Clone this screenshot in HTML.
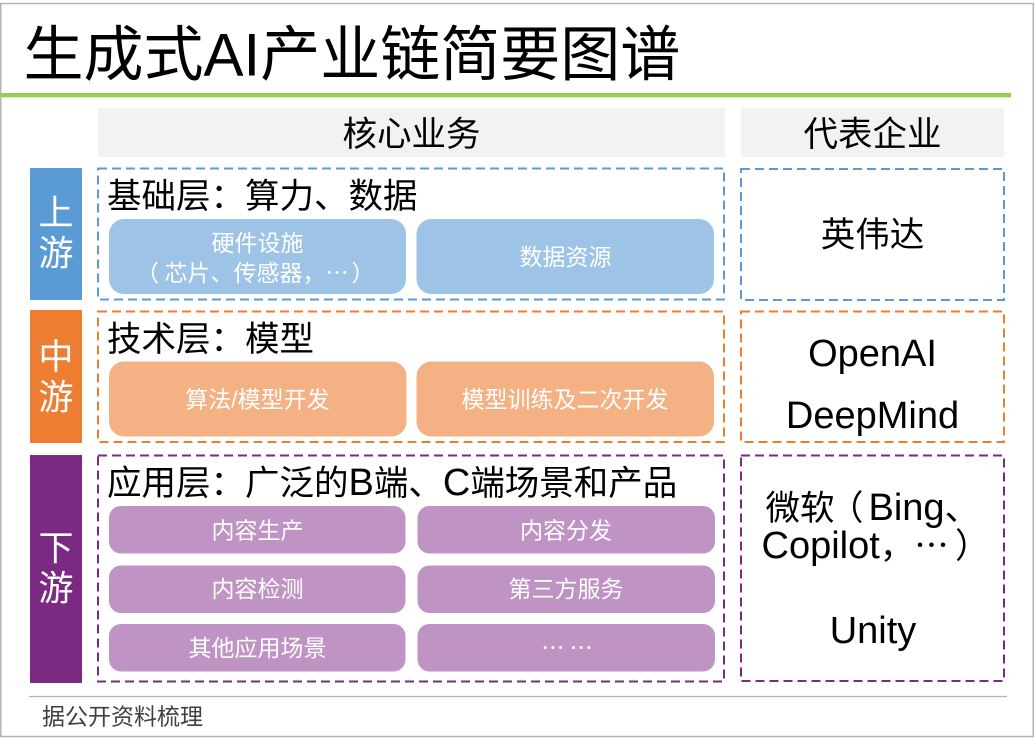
<!DOCTYPE html>
<html lang="zh-Hans">
<head>
<meta charset="utf-8">
<style>
  html,body{margin:0;padding:0;background:#fff;}
  body{width:1035px;height:742px;overflow:hidden;}
  svg{display:block;text-spacing-trim:space-all;}
  text{font-family:"Liberation Sans","Noto Sans CJK SC",sans-serif;text-spacing-trim:space-all;}
  tspan.cjk, text.cjk{font-family:"Noto Sans CJK SC","Liberation Sans",sans-serif;font-feature-settings:"fwid" 1;}
  text.cjk2{font-family:"Noto Sans CJK SC","Liberation Sans",sans-serif;}
</style>
</head>
<body>
<svg width="1035" height="742" viewBox="0 0 1035 742" xmlns="http://www.w3.org/2000/svg" lang="zh-Hans">
  <!-- outer frame -->
  <rect x="0.75" y="3.5" width="1032.5" height="733" fill="none" stroke="#b4b4b4" stroke-width="1.5"/>
  <!-- green rule -->
  <rect x="1" y="93" width="1010" height="4.3" fill="#92d050"/>
  <!-- title -->
  <text x="23.5" y="75.5" font-size="60" fill="#000">生成式AI产业链简要图谱</text>

  <!-- headers -->
  <rect x="98" y="108" width="627" height="49" fill="#f2f2f2"/>
  <rect x="741" y="108" width="263" height="49" fill="#f2f2f2"/>
  <text x="411.5" y="145.8" font-size="34.5" text-anchor="middle" fill="#000">核心业务</text>
  <text x="872.5" y="146" font-size="34.5" text-anchor="middle" fill="#000">代表企业</text>

  <!-- left bars -->
  <rect x="30" y="168" width="52" height="132" fill="#5b9bd5"/>
  <rect x="30" y="310" width="52" height="133" fill="#ed7d31"/>
  <rect x="30" y="455" width="52" height="228" fill="#7a2a83"/>
  <text x="56" y="225" font-size="35" text-anchor="middle" fill="#fff">上</text>
  <text x="56" y="265.5" font-size="35" text-anchor="middle" fill="#fff">游</text>
  <text x="56" y="369" font-size="35" text-anchor="middle" fill="#fff">中</text>
  <text x="56" y="409.5" font-size="35" text-anchor="middle" fill="#fff">游</text>
  <text x="56" y="560.5" font-size="35" text-anchor="middle" fill="#fff">下</text>
  <text x="56" y="600.5" font-size="35" text-anchor="middle" fill="#fff">游</text>

  <!-- dashed containers left -->
  <rect x="98" y="168.5" width="626" height="131" fill="none" stroke="#5b9bd5" stroke-width="2" stroke-dasharray="9 5"/>
  <rect x="98" y="311.5" width="626" height="130.5" fill="none" stroke="#ed7d31" stroke-width="2" stroke-dasharray="9 5"/>
  <rect x="98" y="455.5" width="626" height="226" fill="none" stroke="#7a2a83" stroke-width="2" stroke-dasharray="9 5"/>
  <!-- dashed containers right -->
  <rect x="741" y="169" width="263" height="131" fill="none" stroke="#5b9bd5" stroke-width="2" stroke-dasharray="9 5"/>
  <rect x="741" y="311.5" width="263" height="130.5" fill="none" stroke="#ed7d31" stroke-width="2" stroke-dasharray="9 5"/>
  <rect x="741" y="455.5" width="263" height="225.5" fill="none" stroke="#7a2a83" stroke-width="2" stroke-dasharray="9 5"/>

  <!-- section titles -->
  <text x="107" y="208" font-size="34.5" fill="#000">基础层：算力、数据</text>
  <text x="107" y="351" font-size="34.5" fill="#000">技术层：模型</text>
  <text x="107" y="495" font-size="34.5" fill="#000">应用层：广泛的<tspan font-size="38">B</tspan>端、<tspan font-size="38">C</tspan>端场景和产品</text>

  <!-- upper boxes -->
  <rect x="109" y="219" width="297" height="75" rx="15" ry="15" fill="#9dc3e6"/>
  <rect x="416.5" y="219" width="297.5" height="75" rx="15" ry="15" fill="#9dc3e6"/>
  <text x="257.5" y="251" font-size="23" text-anchor="middle" fill="#fff">硬件设施</text>
  <text y="281" font-size="23" fill="#fff"><tspan x="136">（</tspan><tspan x="164.5">芯片、传感器，</tspan><tspan class="cjk">…</tspan><tspan x="351.5">）</tspan></text>
  <text x="565.5" y="265" font-size="23" text-anchor="middle" fill="#fff">数据资源</text>

  <!-- middle boxes -->
  <rect x="109" y="361.5" width="297.5" height="75" rx="15" ry="15" fill="#f4b183"/>
  <rect x="416.5" y="361.5" width="297.5" height="75" rx="15" ry="15" fill="#f4b183"/>
  <text x="257.5" y="407.5" font-size="23" text-anchor="middle" fill="#fff">算法/模型开发</text>
  <text x="565" y="407.5" font-size="23" text-anchor="middle" fill="#fff">模型训练及二次开发</text>

  <!-- lower boxes -->
  <rect x="109" y="506" width="296.5" height="47.5" rx="12" ry="12" fill="#bf94c4"/>
  <rect x="417.5" y="506" width="297.5" height="47.5" rx="12" ry="12" fill="#bf94c4"/>
  <rect x="109" y="565.5" width="296.5" height="47.5" rx="12" ry="12" fill="#bf94c4"/>
  <rect x="417.5" y="565.5" width="297.5" height="47.5" rx="12" ry="12" fill="#bf94c4"/>
  <rect x="109" y="624" width="296.5" height="47.5" rx="12" ry="12" fill="#bf94c4"/>
  <rect x="417.5" y="624" width="297.5" height="47.5" rx="12" ry="12" fill="#bf94c4"/>
  <text x="257.5" y="538.5" font-size="23" text-anchor="middle" fill="#fff">内容生产</text>
  <text x="566" y="538.5" font-size="23" text-anchor="middle" fill="#fff">内容分发</text>
  <text x="257.5" y="597" font-size="23" text-anchor="middle" fill="#fff">内容检测</text>
  <text x="566" y="597" font-size="23" text-anchor="middle" fill="#fff">第三方服务</text>
  <text x="257.5" y="656" font-size="23" text-anchor="middle" fill="#fff">其他应用场景</text>
  <text x="567" y="656" font-size="23" text-anchor="middle" fill="#fff" class="cjk2" lang="en">… …</text>

  <!-- right column texts -->
  <text x="872.5" y="246.5" font-size="34.5" text-anchor="middle" fill="#000">英伟达</text>
  <text x="872.5" y="366" font-size="38" text-anchor="middle" fill="#000">OpenAI</text>
  <text x="872.5" y="428" font-size="38" text-anchor="middle" fill="#000">DeepMind</text>
  <text y="520" font-size="34.5" fill="#000"><tspan x="765.5">微软</tspan><tspan x="829">（</tspan><tspan x="868.5" font-size="38">Bing</tspan>、</text>
  <text y="558" font-size="34.5" fill="#000"><tspan x="761.5" font-size="38">Copilot</tspan>，<tspan class="cjk">…</tspan><tspan x="955">）</tspan></text>
  <text x="873" y="643" font-size="38" text-anchor="middle" fill="#000">Unity</text>

  <!-- footer -->
  <line x1="29" y1="696.5" x2="1007" y2="696.5" stroke="#b4b4b4" stroke-width="1.3"/>
  <text x="42" y="724.3" font-size="23" fill="#404040">据公开资料梳理</text>
</svg>
</body>
</html>
